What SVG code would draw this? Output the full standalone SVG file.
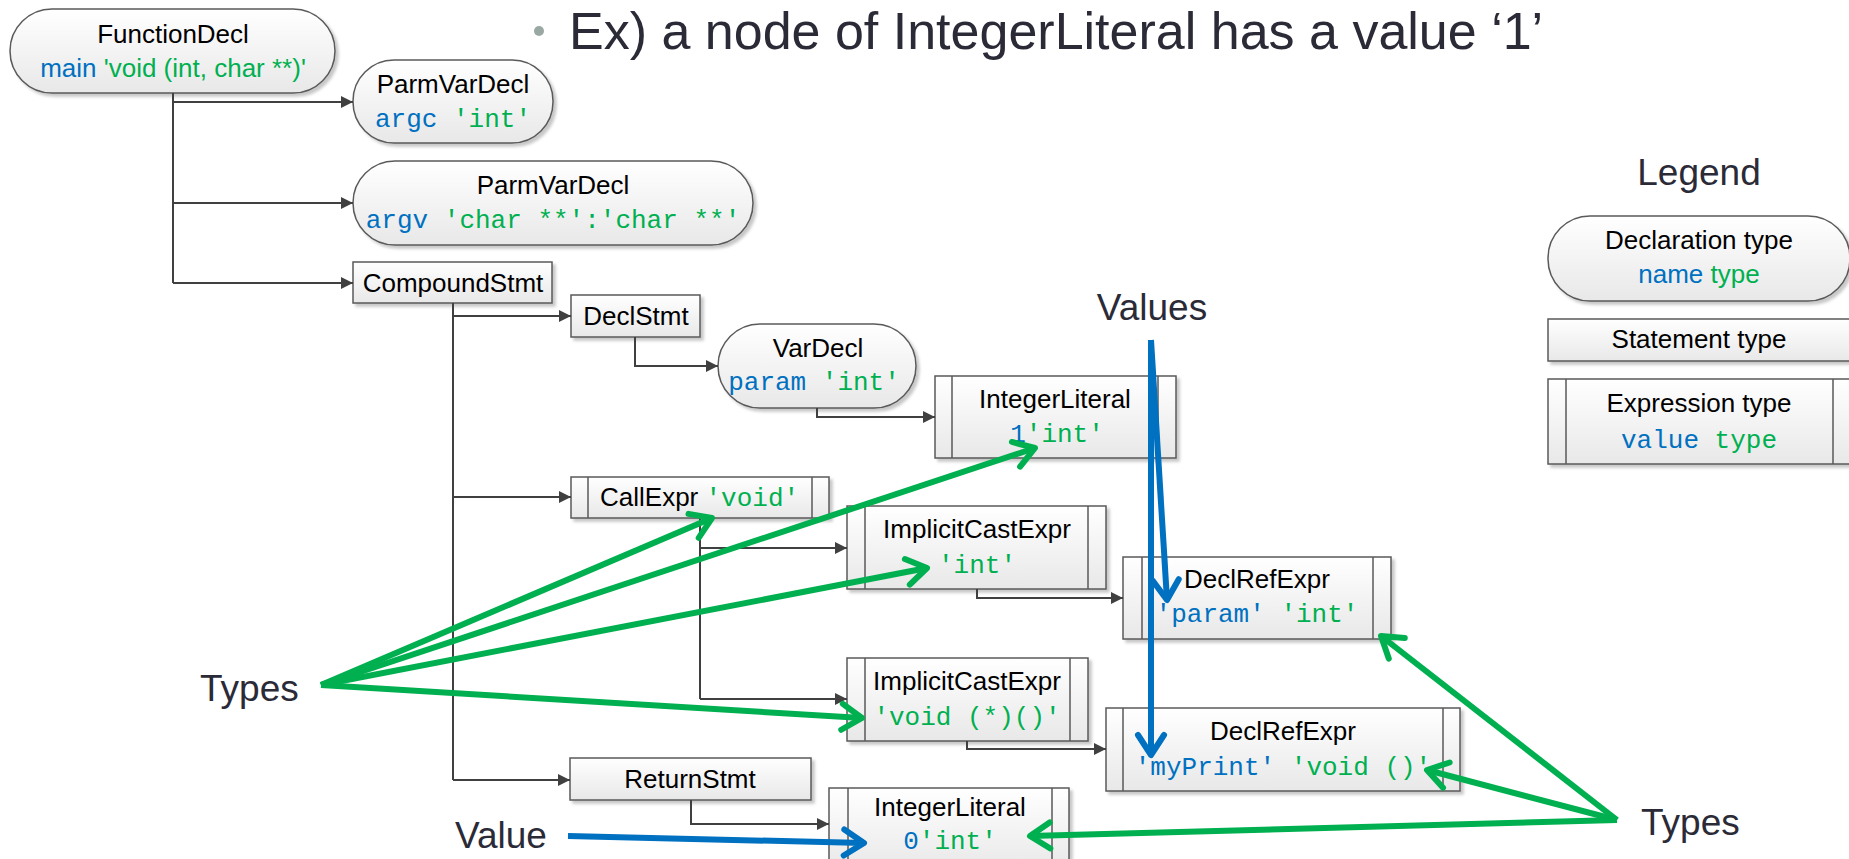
<svg xmlns="http://www.w3.org/2000/svg" width="1849" height="859" viewBox="0 0 1849 859">
<defs>
<style>
.node{fill:url(#gf);stroke:#5a5a5a;stroke-width:1.5;filter:url(#sh)}
.inner{stroke:#5a5a5a;stroke-width:1.5;fill:none}
.t{font-family:"Liberation Sans",Arial,sans-serif;font-size:26px;fill:#000}
.m{font-family:"Liberation Mono","DejaVu Sans Mono",monospace;font-size:26px}
.b{fill:#0070c0}
.g{fill:#00b050}
.big{font-family:"Liberation Sans",Arial,sans-serif;font-size:37px;fill:#2b2b38}
.tree{fill:none;stroke:#404040;stroke-width:2;marker-end:url(#ah)}
.tree0{fill:none;stroke:#404040;stroke-width:2}
.ga{fill:none;stroke:#00b050;stroke-width:6;marker-end:url(#og)}
.ba{fill:none;stroke:#0070c0;stroke-width:6;marker-end:url(#ob)}
</style>
<linearGradient id="gf" x1="0" y1="0" x2="0" y2="1"><stop offset="0" stop-color="#ffffff"/><stop offset="1" stop-color="#e8e8e8"/></linearGradient>
<filter id="sh" x="-5%" y="-10%" width="115%" height="135%"><feDropShadow dx="3" dy="3" stdDeviation="1.5" flood-color="#000" flood-opacity="0.22"/></filter>
<marker id="ah" markerUnits="userSpaceOnUse" markerWidth="14" markerHeight="14" refX="12" refY="6" orient="auto"><path d="M0,0 L12,6 L0,12 z" fill="#404040"/></marker>
<marker id="og" markerUnits="userSpaceOnUse" markerWidth="34" markerHeight="34" refX="26" refY="16" orient="auto" overflow="visible"><path d="M6,3 L26,16 L6,29" fill="none" stroke="#00b050" stroke-width="6" stroke-linecap="round" stroke-linejoin="round"/></marker>
<marker id="ob" markerUnits="userSpaceOnUse" markerWidth="34" markerHeight="34" refX="26" refY="16" orient="auto" overflow="visible"><path d="M6,3 L26,16 L6,29" fill="none" stroke="#0070c0" stroke-width="6" stroke-linecap="round" stroke-linejoin="round"/></marker>
</defs>
<rect width="1849" height="859" fill="#ffffff"/>

<g id="title">
<circle cx="539" cy="31" r="5" fill="#9aa8a3"/>
<text x="569" y="49" font-family="'Liberation Sans',Arial,sans-serif" font-size="52" fill="#2b2b38">Ex) a node of IntegerLiteral has a value ‘1’</text>
</g>

<g id="legend">
<text class="big" x="1699" y="185" text-anchor="middle">Legend</text>
<g id="legend-decl">
<rect class="node" x="1548" y="216" width="302" height="85" rx="42" ry="42"/>
<text class="t" x="1699" y="249" text-anchor="middle">Declaration type</text>
<text class="t" x="1699" y="283" text-anchor="middle"><tspan class="b">name</tspan> <tspan class="g">type</tspan></text>
</g>
<g id="legend-stmt">
<rect class="node" x="1548" y="319" width="320" height="42"/>
<text class="t" x="1699" y="348" text-anchor="middle">Statement type</text>
</g>
<g id="legend-expr">
<rect class="node" x="1548" y="379" width="320" height="85"/>
<path class="inner" d="M1566,379 V464 M1833,379 V464"/>
<text class="t" x="1699" y="412" text-anchor="middle">Expression type</text>
<text class="m" x="1699" y="448" text-anchor="middle"><tspan class="b">value</tspan> <tspan class="g">type</tspan></text>
</g>
</g>

<g id="FunctionDecl">
<rect class="node" x="10" y="9" width="325" height="84" rx="42" ry="42"/>
<text class="t" x="173" y="43" text-anchor="middle">FunctionDecl</text>
<text class="t" x="173" y="77" text-anchor="middle" font-size="28"><tspan class="b">main</tspan> <tspan class="g">'void (int, char **)'</tspan></text>
</g>
<g id="ParmVarDecl-argc">
<rect class="node" x="353" y="60" width="200" height="83" rx="41" ry="41"/>
<text class="t" x="453" y="93" text-anchor="middle">ParmVarDecl</text>
<text class="m" x="453" y="127" text-anchor="middle"><tspan class="b">argc</tspan> <tspan class="g">'int'</tspan></text>
</g>
<g id="ParmVarDecl-argv">
<rect class="node" x="353" y="161" width="400" height="84" rx="42" ry="42"/>
<text class="t" x="553" y="194" text-anchor="middle">ParmVarDecl</text>
<text class="m" x="553" y="228" text-anchor="middle" font-size="24"><tspan class="b">argv</tspan> <tspan class="g">'char **':'char **'</tspan></text>
</g>
<g id="CompoundStmt">
<rect class="node" x="353" y="262" width="199" height="41"/>
<text class="t" x="453" y="292" text-anchor="middle">CompoundStmt</text>
</g>
<g id="DeclStmt">
<rect class="node" x="571" y="295" width="129" height="42"/>
<text class="t" x="636" y="325" text-anchor="middle">DeclStmt</text>
</g>
<g id="VarDecl">
<rect class="node" x="718" y="324" width="198" height="84" rx="42" ry="42"/>
<text class="t" x="818" y="357" text-anchor="middle">VarDecl</text>
<text class="m" x="814" y="390" text-anchor="middle"><tspan class="b">param</tspan> <tspan class="g">'int'</tspan></text>
</g>
<g id="IntegerLiteral-1">
<rect class="node" x="935" y="376" width="241" height="82"/>
<path class="inner" d="M952,376 V458 M1158,376 V458"/>
<text class="t" x="1055" y="408" text-anchor="middle">IntegerLiteral</text>
<text class="m" x="1057" y="442" text-anchor="middle"><tspan class="b">1</tspan><tspan class="g">'int'</tspan></text>
</g>
<g id="CallExpr">
<rect class="node" x="571" y="477" width="258" height="41"/>
<path class="inner" d="M588,477 V518 M812,477 V518"/>
<text class="t" x="600" y="506">CallExpr <tspan class="m g">'void'</tspan></text>
</g>
<g id="ImplicitCastExpr-int">
<rect class="node" x="847" y="506" width="259" height="83"/>
<path class="inner" d="M865,506 V589 M1088,506 V589"/>
<text class="t" x="977" y="538" text-anchor="middle">ImplicitCastExpr</text>
<text class="m g" x="977" y="573" text-anchor="middle">'int'</text>
</g>
<g id="DeclRefExpr-param">
<rect class="node" x="1123" y="557" width="268" height="82"/>
<path class="inner" d="M1142,557 V639 M1373,557 V639"/>
<text class="t" x="1257" y="588" text-anchor="middle">DeclRefExpr</text>
<text class="m" x="1257" y="622" text-anchor="middle"><tspan class="b">'param'</tspan> <tspan class="g">'int'</tspan></text>
</g>
<g id="ImplicitCastExpr-fn">
<rect class="node" x="847" y="658" width="241" height="83"/>
<path class="inner" d="M865,658 V741 M1070,658 V741"/>
<text class="t" x="967" y="690" text-anchor="middle">ImplicitCastExpr</text>
<text class="m g" x="967" y="725" text-anchor="middle">'void (*)()'</text>
</g>
<g id="DeclRefExpr-myPrint">
<rect class="node" x="1106" y="708" width="354" height="83"/>
<path class="inner" d="M1123,708 V791 M1443,708 V791"/>
<text class="t" x="1283" y="740" text-anchor="middle">DeclRefExpr</text>
<text class="m" x="1283" y="775" text-anchor="middle"><tspan class="b">'myPrint'</tspan> <tspan class="g">'void ()'</tspan></text>
</g>
<g id="ReturnStmt">
<rect class="node" x="570" y="758" width="241" height="42"/>
<text class="t" x="690" y="788" text-anchor="middle">ReturnStmt</text>
</g>
<g id="IntegerLiteral-0">
<rect class="node" x="829" y="788" width="240" height="84"/>
<path class="inner" d="M848,788 V872 M1052,788 V872"/>
<text class="t" x="950" y="816" text-anchor="middle">IntegerLiteral</text>
<text class="m" x="950" y="849" text-anchor="middle"><tspan class="b">0</tspan><tspan class="g">'int'</tspan></text>
</g>

<g id="labels">
<text class="big" x="1152" y="320" text-anchor="middle">Values</text>
<text class="big" x="200" y="701">Types</text>
<text class="big" x="1641" y="835">Types</text>
<text class="big" x="455" y="848">Value</text>
</g>

<g id="connectors">
<path class="tree0" d="M173,93 V283"/>
<path class="tree" d="M173,102 H353"/>
<path class="tree" d="M173,203 H353"/>
<path class="tree" d="M173,283 H353"/>
<path class="tree0" d="M453,303 V780"/>
<path class="tree" d="M453,316 H571"/>
<path class="tree" d="M453,497 H571"/>
<path class="tree" d="M453,780 H570"/>
<path class="tree" d="M635,337 V366 H718"/>
<path class="tree" d="M817,408 V417 H935"/>
<path class="tree0" d="M700,518 V699"/>
<path class="tree" d="M700,548 H847"/>
<path class="tree" d="M700,699 H847"/>
<path class="tree" d="M977,589 V598 H1123"/>
<path class="tree" d="M967,741 V749 H1106"/>
<path class="tree" d="M691,800 V824 H829"/>
<path class="ga" d="M321,685 L712,518"/>
<path class="ga" d="M321,685 L1035,448"/>
<path class="ga" d="M321,685 L927,568"/>
<path class="ga" d="M321,685 L862,718"/>
<path class="ga" d="M1617,820 L1381,636"/>
<path class="ga" d="M1617,820 L1427,770"/>
<path class="ga" d="M1617,820 L1030,836"/>
<path class="ba" d="M1151,340 L1167,600"/>
<path class="ba" d="M1151,340 L1151,755"/>
<path class="ba" d="M568,836 L864,843"/>
</g>
</svg>
